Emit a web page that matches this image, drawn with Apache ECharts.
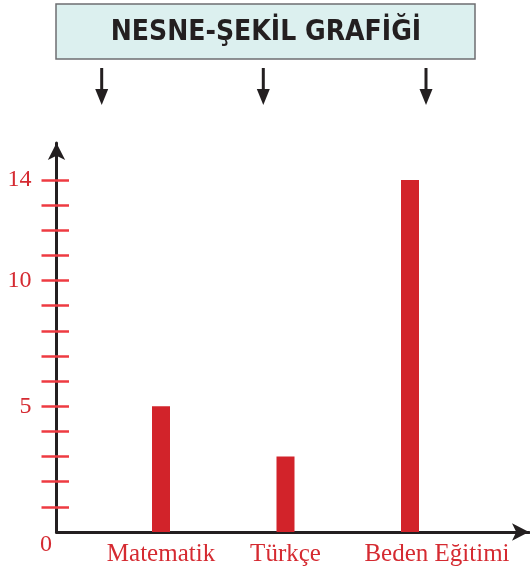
<!DOCTYPE html>
<html>
<head>
<meta charset="utf-8">
<script src="https://cdn.jsdelivr.net/npm/echarts@6/dist/echarts.min.js"></script>
<style>
  html, body { margin: 0; padding: 0; background: #ffffff; }
  #chart { width: 530px; height: 572px; }
</style>
</head>
<body>
<div id="chart"></div>
<script>
// Lessons and how many objects each one got
const categories = ['Matematik', 'Türkçe', 'Beden Eğitimi'];
const counts = [5, 3, 14];

// Tick marks on the vertical axis and the ones that carry a number
const tickValues = [1, 2, 3, 4, 5, 6, 7, 8, 9, 10, 11, 12, 13, 14];
const labelValues = [5, 10, 14];

const titleText = 'NESNE-ŞEKİL GRAFİĞİ';

const INK = '#231f20';
const RED = '#d2232a';
const TICK_RED = '#ee3b42';
const LABEL_RED = '#d52a31';

const chart = echarts.init(document.getElementById('chart'), null, { renderer: 'canvas' });

// Layout of the plot
const AXIS_X = 56.5;     // vertical axis line
const BASE_Y = 532;      // horizontal axis line
const TOP_Y = 143;       // tip of the vertical axis arrow
const BAR_LEFT = 98.75;  // category band start
const BAR_RIGHT = 472.25;
const Y_MAX = 15.47;

// Decorative arrows under the heading
const headingArrowsX = [101.7, 263.3, 426];
const headingArrows = [];
headingArrowsX.forEach(function (x) {
  headingArrows.push({
    type: 'line',
    shape: { x1: x, y1: 68, x2: x, y2: 92 },
    style: { stroke: INK, lineWidth: 3 }
  });
  headingArrows.push({
    type: 'polygon',
    shape: { points: [[x - 6.5, 89], [x + 6.5, 89], [x, 105]] },
    style: { fill: INK }
  });
});

const yTickAxisBase = {
  type: 'value',
  gridIndex: 0,
  min: 0,
  max: Y_MAX,
  position: 'left',
  offset: BAR_LEFT - AXIS_X,
  axisLine: { show: false },
  splitLine: { show: false }
};

const option = {
  backgroundColor: '#ffffff',
  animation: false,
  grid: [
    { left: BAR_LEFT, right: 530 - BAR_RIGHT, top: TOP_Y, bottom: 572 - BASE_Y },
    { left: AXIS_X, right: 1, top: TOP_Y, bottom: 572 - BASE_Y }
  ],
  xAxis: [
    {
      type: 'category',
      gridIndex: 0,
      data: categories.map(function (c, i) {
        // the last lesson name sits a little to the right of its bar
        return i === 2 ? { value: c, textStyle: { padding: [0, 0, 0, 54] } } : c;
      }),
      axisLine: { show: false },
      axisTick: { show: false },
      axisLabel: {
        interval: 0,
        hideOverlap: false,
        color: LABEL_RED,
        fontFamily: '"Liberation Serif", serif',
        fontSize: 25,
        margin: 10
      }
    },
    {
      type: 'value',
      gridIndex: 1,
      min: 0,
      max: 1,
      axisLine: {
        show: true,
        symbol: ['none', 'arrow'],
        symbolSize: [13, 17],
        lineStyle: { color: INK, width: 3 }
      },
      axisTick: { show: false },
      axisLabel: { show: false },
      splitLine: { show: false }
    }
  ],
  yAxis: [
    Object.assign({}, yTickAxisBase, {
      axisTick: {
        show: true,
        customValues: tickValues,
        length: 15,
        lineStyle: { color: TICK_RED, width: 2.5 }
      },
      axisLabel: {
        show: true,
        customValues: labelValues,
        margin: 25,
        color: LABEL_RED,
        fontFamily: '"Liberation Serif", serif',
        fontSize: 24
      }
    }),
    Object.assign({}, yTickAxisBase, {
      axisTick: {
        show: true,
        inside: true,
        customValues: tickValues,
        length: 12.5,
        lineStyle: { color: TICK_RED, width: 2.5 }
      },
      axisLabel: { show: false }
    }),
    {
      type: 'value',
      gridIndex: 1,
      min: 0,
      max: Y_MAX,
      axisLine: {
        show: true,
        symbol: ['none', 'arrow'],
        symbolSize: [13, 17],
        lineStyle: { color: INK, width: 3 }
      },
      axisTick: { show: false },
      axisLabel: { show: false },
      splitLine: { show: false }
    }
  ],
  series: [
    {
      type: 'bar',
      xAxisIndex: 0,
      yAxisIndex: 0,
      data: counts,
      barWidth: 18,
      itemStyle: { color: RED },
      z: 1
    }
  ],
  graphic: [
    {
      type: 'rect',
      shape: { x: 56, y: 4, width: 419, height: 55 },
      style: { fill: '#dcf0ef', stroke: '#6d6e71', lineWidth: 1.5 }
    },
    {
      type: 'text',
      style: {
        text: titleText,
        x: 266,
        y: 33,
        align: 'center',
        verticalAlign: 'middle',
        fill: INK,
        font: 'bold 28px "DejaVu Sans Condensed", "Liberation Sans", sans-serif'
      }
    }
  ].concat(headingArrows)
};

chart.setOption(option);

// The zero sits below and left of the corner where the axes meet
const origin = chart.convertToPixel({ xAxisIndex: 1, yAxisIndex: 2 }, [0, 0]);
chart.setOption({
  graphic: option.graphic.concat([{
    type: 'text',
    style: {
      text: '0',
      x: origin[0] - 10.5,
      y: origin[1] + 12.5,
      align: 'center',
      verticalAlign: 'middle',
      fill: LABEL_RED,
      font: '24px "Liberation Serif", serif'
    }
  }])
});
</script>
</body>
</html>
